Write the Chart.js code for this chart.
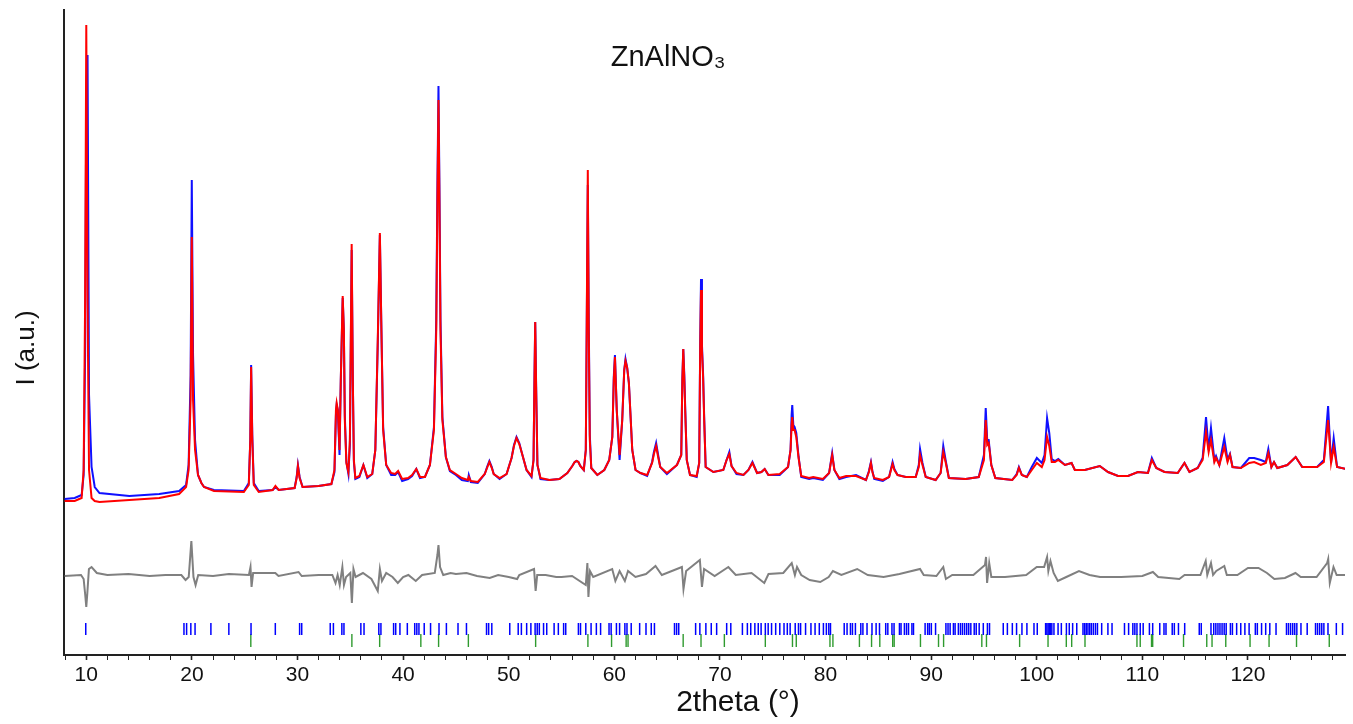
<!DOCTYPE html>
<html>
<head>
<meta charset="utf-8">
<title>ZnAlNO3 XRD refinement</title>
<script src="https://cdn.jsdelivr.net/npm/chart.js@4.4.1/dist/chart.umd.min.js"></script>
<style>
  html, body { margin: 0; padding: 0; background: #fff; overflow: hidden; }
  canvas { display: block; }
</style>
</head>
<body>
<canvas id="xrd" width="1353" height="724"></canvas>
<script>
const SAMPLE = "ZnAlNO₃";

// profile grid, 2theta (deg)
const twoTheta = [
  7.95, 8.90, 9.56, 9.75, 9.89, 10.00, 10.12, 10.26, 10.50, 10.80, 11.25, 14.08, 16.91, 18.79,
  19.45, 19.69, 19.88, 19.99, 20.11, 20.30, 20.58, 20.90, 21.15, 22.09, 24.92, 25.39, 25.53,
  25.61, 25.72, 25.86, 26.33, 27.65, 27.91, 28.22, 29.73, 29.92, 30.04, 30.20, 30.48,
  31.99, 33.21, 33.50, 33.64, 33.71, 33.82, 33.98, 34.10, 34.28, 34.39, 34.48, 34.63,
  34.82, 34.96, 35.13, 35.24, 35.34, 35.48, 35.86, 36.24, 36.61, 37.08, 37.37, 37.60,
  37.80, 37.93, 38.11, 38.40, 38.87, 39.25, 39.53, 39.91, 40.47, 40.85, 41.25, 41.60,
  42.07, 42.54, 42.92, 43.14, 43.25, 43.35, 43.44, 43.54, 43.72, 44.05, 44.43, 45.00,
  45.56, 46.13, 46.22, 46.41, 47.07, 47.73, 47.95, 48.17, 48.40, 48.58, 49.14, 49.80, 50.27, 50.50, 50.74, 51.00,
  51.22, 51.69, 52.16, 52.35, 52.44, 52.51, 52.60, 52.72, 53.01, 53.85, 54.80, 55.55,
  56.02, 56.25, 56.43, 56.60, 56.78, 57.11, 57.30, 57.39, 57.49, 57.58, 57.68, 57.82, 58.39, 59.05,
  59.52, 59.81, 59.95, 60.06, 60.23, 60.50, 60.75, 60.94, 61.06, 61.22, 61.38, 61.70,
  62.01, 62.48, 63.11, 63.58, 63.75, 63.96, 64.15, 64.35, 64.98, 65.93, 66.34, 66.44, 66.53, 66.63,
  66.72, 66.86, 67.17, 67.80, 68.04, 68.13, 68.21, 68.30, 68.41, 68.51, 68.65, 69.38,
  70.32, 70.63, 70.89, 71.10, 71.57, 72.23, 72.70, 73.08, 73.52, 73.93, 74.24, 74.59,
  75.66, 76.45, 76.69, 76.79, 76.85, 76.95, 77.07, 77.23, 77.45, 77.70, 78.45, 78.83,
  79.75, 80.34, 80.63, 80.84, 81.31, 81.95, 82.89, 83.83, 84.11, 84.30, 84.44, 84.61,
  85.43, 86.02, 86.35, 86.52, 86.82, 87.60, 88.54, 88.83, 88.95, 89.18, 89.49, 90.43,
  90.90, 91.15, 91.37, 91.68, 93.26, 94.51, 95.00, 95.17, 95.31, 95.45, 95.70, 96.08,
  97.68, 98.10, 98.31, 98.59, 99.06, 99.53, 100.01, 100.48, 100.74, 100.98, 101.19, 101.42,
  101.73, 102.04, 102.67, 103.30, 103.61, 104.55, 105.97, 106.75, 107.70, 108.64, 109.58, 110.53,
  110.90, 111.32, 112.10, 113.35, 113.99, 114.46, 115.24, 115.71, 116.03, 116.28, 116.50, 116.82,
  116.98, 117.29, 117.76, 118.07, 118.30, 118.54, 119.33, 120.12, 120.59, 121.22, 121.69, 121.93,
  122.22, 122.47, 122.78, 123.73, 124.52, 124.83, 125.14, 126.55, 127.19, 127.59, 127.87, 128.12,
  128.44, 129.26
];

// observed intensity (a.u.)
const iObs = [
  156, 157, 160, 180, 300, 560, 600, 260, 188, 168, 162, 159, 161, 164,
  170, 190, 280, 475, 300, 215, 180, 172, 168, 165, 164, 172, 215,
  290, 220, 172, 164, 165, 168, 165, 167, 178, 190, 178, 168,
  169, 171, 183, 240, 250, 245, 200, 275, 357, 325, 240, 193,
  181, 210, 405, 275, 193, 176, 178, 190, 177, 181, 205, 310,
  420, 335, 228, 190, 180, 180, 183, 174, 176, 179, 186, 177,
  178, 190, 228, 335, 470, 569, 470, 335, 238, 198, 184, 180,
  175, 174, 180, 173, 172, 181, 188, 194, 188, 181, 176, 181, 197, 210, 218, 212,
  203, 185, 178, 195, 278, 333, 268, 190, 176, 175, 176, 182,
  189, 193, 194, 193, 189, 185, 205, 330, 470, 335, 220, 187, 180, 185,
  195, 218, 278, 300, 245, 195, 235, 285, 296, 287, 272, 205,
  185, 182, 179, 193, 203, 212, 200, 188, 181, 190, 200, 275, 306, 280,
  245, 195, 180, 178, 192, 310, 376, 310, 280, 238, 188, 183,
  185, 195, 203, 189, 181, 180, 185, 193, 182, 183, 186, 180,
  180, 188, 205, 240, 250, 230, 228, 222, 198, 178, 176, 177,
  175, 182, 202, 185, 176, 178, 180, 175, 184, 193, 184, 176,
  174, 178, 193, 186, 180, 178, 178, 190, 206, 192, 178, 175,
  182, 209, 195, 177, 176, 178, 200, 247, 215, 215, 190, 177,
  175, 181, 188, 180, 178, 188, 197, 192, 200, 237, 222, 196,
  194, 196, 190, 192, 185, 185, 189, 183, 179, 179, 183, 182,
  197, 187, 183, 182, 192, 183, 187, 197, 238, 205, 227, 195,
  199, 190, 217, 195, 201, 188, 187, 197, 197, 195, 193, 206,
  188, 193, 187, 190, 198, 193, 188, 188, 195, 249, 192, 217,
  188, 186
];

// calculated intensity (a.u.)
const iCalc = [
  154, 154, 157, 185, 355, 630, 355, 185, 157, 154, 153, 155, 157, 161,
  168, 185, 255, 418, 255, 205, 180, 172, 168, 164, 163, 170, 215,
  288, 215, 170, 163, 165, 169, 165, 167, 177, 189, 177, 168,
  169, 171, 185, 245, 252, 245, 205, 275, 359, 325, 235, 192,
  183, 215, 411, 275, 195, 177, 179, 190, 178, 181, 205, 315,
  422, 335, 225, 190, 182, 181, 184, 176, 177, 180, 186, 178,
  178, 190, 225, 325, 455, 555, 455, 325, 235, 198, 185, 181,
  177, 175, 178, 174, 173, 181, 187, 193, 187, 181, 177, 181, 197, 209, 217, 211,
  203, 185, 179, 195, 275, 333, 265, 190, 177, 175, 176, 182,
  189, 193, 194, 193, 189, 185, 205, 335, 485, 325, 215, 187, 180, 185,
  195, 218, 275, 298, 245, 200, 235, 285, 294, 287, 272, 205,
  185, 182, 180, 192, 201, 209, 198, 188, 182, 190, 200, 275, 306, 275,
  242, 195, 180, 179, 192, 305, 365, 305, 277, 235, 188, 183,
  185, 195, 201, 189, 182, 180, 185, 192, 182, 183, 186, 180,
  181, 188, 205, 230, 238, 225, 225, 218, 197, 179, 177, 178,
  176, 182, 200, 185, 177, 179, 179, 175, 183, 192, 183, 177,
  175, 178, 191, 185, 180, 178, 178, 188, 200, 190, 178, 175,
  182, 203, 193, 177, 176, 178, 195, 235, 210, 212, 190, 177,
  175, 180, 187, 180, 178, 185, 192, 188, 195, 218, 209, 193,
  193, 195, 190, 192, 185, 185, 189, 183, 179, 179, 183, 182,
  195, 187, 183, 182, 192, 183, 187, 195, 223, 203, 215, 193,
  197, 190, 208, 193, 200, 188, 187, 192, 193, 190, 192, 202,
  188, 193, 187, 190, 198, 193, 188, 188, 193, 235, 192, 208,
  188, 186
];

// difference curve (obs - calc, shifted), own grid
const diffTheta = [
  7.95, 9.50, 9.75, 9.90, 10.00, 10.10, 10.25, 10.50, 11.00, 12.00, 14.00, 16.00, 17.50, 19.00,
  19.40, 19.70, 19.95, 20.15, 20.35, 20.60, 22.00, 23.50, 25.40, 25.55, 25.65, 25.80, 27.90, 28.20,
  30.10, 30.40, 32.00, 33.30, 33.60, 33.80, 34.00, 34.25, 34.40, 34.60, 35.00, 35.15, 35.30,
  35.50, 36.20, 37.00, 37.60, 37.80, 38.00, 38.40, 39.00, 39.50, 40.00, 40.50, 41.20,
  41.80, 43.00, 43.25, 43.35, 43.50, 43.80, 44.50, 45.00, 46.00, 47.00, 48.20, 49.00, 50.00, 50.80, 51.00, 52.40,
  52.55, 52.70, 53.50, 54.50, 55.00, 56.00, 57.30, 57.45, 57.55, 57.70, 58.00, 59.80, 60.10, 60.50,
  61.00, 61.30, 62.00, 63.00, 63.90, 64.50, 66.40, 66.55, 66.80, 68.10, 68.30, 68.50,
  69.50, 70.80, 71.50, 73.00, 74.20, 74.60, 76.00, 76.80, 77.10, 77.30, 77.70, 78.50,
  79.50, 80.30, 80.70, 81.50, 83.00, 84.00, 85.50, 87.00, 88.95, 89.30, 90.50, 91.15,
  91.40, 92.00, 94.00, 95.10, 95.20, 95.30, 95.50, 95.70, 97.00, 99.00, 100.00, 100.70,
  100.98, 101.10, 101.30, 101.60, 102.00, 102.80, 104.00, 105.00, 106.00, 108.00, 110.00, 111.00,
  111.50, 113.50, 114.00, 115.50, 116.00, 116.15, 116.50, 116.70, 117.00, 117.76, 118.00, 119.00,
  120.00, 121.00, 121.80, 122.50, 123.50, 124.50, 125.00, 126.50, 127.50, 127.60, 127.75, 128.10,
  128.40, 129.26
];

const iDiff = [
  79, 80, 76, 60, 48, 62, 86, 88, 82, 80, 81, 79, 80, 80,
  75, 78, 114, 78, 70, 80, 79, 81, 80, 88, 68, 82, 82, 79,
  83, 79, 80, 80, 72, 80, 70, 88, 70, 78, 82, 52, 86,
  78, 82, 76, 64, 86, 74, 82, 78, 72, 78, 80, 74,
  80, 82, 100, 110, 88, 80, 82, 81, 82, 79, 77, 80, 78, 76, 80, 86,
  64, 80, 80, 78, 78, 79, 70, 92, 58, 84, 78, 86, 74, 84,
  74, 84, 78, 81, 89, 80, 88, 66, 84, 95, 68, 86,
  79, 88, 80, 82, 72, 81, 82, 92, 80, 88, 80, 75,
  73, 78, 84, 80, 86, 80, 78, 81, 86, 80, 79, 88,
  76, 80, 80, 90, 98, 72, 92, 78, 78, 80, 88, 88,
  98, 84, 94, 82, 74, 78, 84, 80, 78, 78, 79, 83,
  78, 76, 80, 80, 94, 80, 92, 80, 84, 89, 80, 80,
  87, 87, 82, 76, 77, 82, 78, 78, 92, 96, 72, 88,
  80, 80
];

// reflection positions, phase 1 (LDH, blue)
const hklLdh = [
  9.95, 19.25, 19.50, 19.90, 20.30, 21.80, 23.50, 25.60, 27.90, 30.20, 30.40, 33.10,
  33.40, 34.20, 34.40, 36.00, 36.30, 37.70, 37.90, 39.10, 39.30, 39.70, 40.40, 41.10,
  41.30, 41.50, 42.00, 42.60, 43.40, 44.10, 45.20, 46.00, 47.90, 48.10, 48.40, 50.10,
  50.90, 51.20, 51.70, 52.10, 52.50, 52.70, 52.90, 53.30, 53.60, 54.30, 54.70, 55.20,
  55.40, 56.60, 56.80, 57.30, 57.80, 58.30, 58.70, 59.50, 59.70, 60.20, 60.50, 61.00,
  61.20, 61.60, 62.40, 63.00, 63.50, 63.80, 65.70, 65.90, 66.10, 67.70, 68.10, 68.67,
  69.18, 69.69, 70.64, 71.03, 72.13, 72.60, 72.92, 73.31, 73.63, 73.90, 74.30, 74.57,
  74.89, 75.28, 75.67, 76.07, 76.38, 76.65, 77.13, 77.44, 77.64, 78.11, 78.62, 79.01,
  79.41, 79.80, 80.08, 80.31, 80.47, 81.77, 82.04, 82.36, 82.55, 82.83, 83.34, 83.54,
  83.93, 84.40, 84.79, 85.11, 85.70, 85.90, 86.29, 86.49, 87.00, 87.15, 87.47, 87.67,
  87.86, 88.18, 88.33, 89.43, 89.67, 89.83, 90.02, 90.42, 91.40, 91.60, 91.80, 92.11,
  92.27, 92.58, 92.78, 92.97, 93.17, 93.37, 93.56, 93.76, 94.08, 94.27, 94.55, 94.94,
  95.33, 95.53, 96.83, 97.22, 97.69, 98.09, 98.60, 99.07, 99.74, 100.05, 100.84, 100.96,
  101.08, 101.19, 101.31, 101.43, 101.63, 102.02, 102.33, 102.81, 103.08, 103.40, 103.79, 104.38,
  104.54, 104.69, 104.85, 105.01, 105.17, 105.36, 105.56, 105.75, 106.15, 106.74, 107.13, 108.31,
  108.70, 109.10, 109.29, 109.49, 109.80, 110.08, 110.67, 110.98, 111.65, 112.05, 112.24, 112.83,
  113.03, 113.42, 114.01, 115.39, 115.58, 116.50, 116.76, 116.96, 117.16, 117.35, 117.55, 117.75,
  117.94, 118.34, 118.53, 118.93, 119.32, 119.71, 120.11, 120.70, 120.89, 121.29, 121.68, 122.07,
  122.66, 123.65, 123.84, 124.04, 124.24, 124.43, 124.63, 125.02, 125.61, 126.40, 126.59, 126.79,
  126.99, 127.19, 127.58, 128.37, 128.96
];

// reflection positions, phase 2 (corundum, green)
const hklCorundum = [
  25.58, 35.15, 37.78, 41.68, 43.36, 46.18, 52.55, 57.50, 59.74, 61.12, 61.30, 66.52,
  68.21, 70.42, 74.30, 76.87, 77.23, 80.42, 80.70, 83.21, 84.36, 85.14, 86.36, 86.50,
  88.99, 90.70, 91.18, 94.80, 95.24, 98.38, 101.07, 102.80, 103.31, 104.57, 109.49, 109.80,
  110.87, 110.98, 113.90, 116.10, 116.60, 117.90, 120.20, 122.00, 124.60, 127.70
];

const FONT = '"Liberation Sans", Arial, Helvetica, sans-serif';
const LDH_ROW = 26;
const COR_ROW = 14.5;

const pts = (xs, ys) => xs.map((x, i) => ({ x, y: ys[i] }));
const marks = (xs, y) => xs.map(x => ({ x, y }));

const textPlugin = {
  id: "xrdText",
  afterDraw(chart) {
    const { ctx, scales } = chart;
    ctx.save();
    ctx.fillStyle = "#111";
    ctx.textAlign = "center";

    ctx.font = "29px " + FONT;
    ctx.textBaseline = "alphabetic";
    ctx.fillText(SAMPLE, scales.x.getPixelForValue(65.1), 66);

    ctx.font = "30px " + FONT;
    ctx.textBaseline = "middle";
    ctx.fillText("2theta (°)", 738, 703);

    ctx.translate(27, 348);
    ctx.rotate(-Math.PI / 2);
    ctx.font = "26px " + FONT;
    ctx.fillText("I (a.u.)", 0, 0);
    ctx.restore();
  }
};

Chart.defaults.font.family = FONT;
Chart.defaults.color = "#111";

new Chart(document.getElementById("xrd"), {
  type: "scatter",
  data: {
    datasets: [
      {
        label: "Ycalc",
        data: pts(twoTheta, iCalc),
        showLine: true,
        borderColor: "#ff0000",
        borderWidth: 2,
        pointRadius: 0,
        order: 0,
      },
      {
        label: "Yobs",
        data: pts(twoTheta, iObs),
        showLine: true,
        borderColor: "#1010ff",
        borderWidth: 2,
        pointRadius: 0,
        order: 1,
      },
      {
        label: "Yobs-Ycalc",
        data: pts(diffTheta, iDiff),
        showLine: true,
        borderColor: "#808080",
        borderWidth: 2,
        pointRadius: 0,
        order: 2,
      },
      {
        label: "LDH",
        data: marks(hklLdh, LDH_ROW),
        showLine: false,
        pointStyle: "line",
        rotation: 90,
        pointRadius: 6,
        borderColor: "#0000ff",
        borderWidth: 1.5,
        order: 3,
      },
      {
        label: "Corundum",
        data: marks(hklCorundum, COR_ROW),
        showLine: false,
        pointStyle: "line",
        rotation: 90,
        pointRadius: 6.5,
        borderColor: "#2f9a2f",
        borderWidth: 1.4,
        order: 4,
      },
    ],
  },
  options: {
    responsive: false,
    animation: false,
    devicePixelRatio: 1,
    layout: { padding: { top: 10, right: 0, bottom: 0, left: 0 } },
    plugins: { legend: { display: false }, tooltip: { enabled: false } },
    scales: {
      x: {
        type: "linear",
        min: 7.89,
        max: 129.2,
        afterFit: s => { s.height = 69; s.paddingLeft = 0; s.paddingRight = 0; },
        grid: {
          display: true,
          drawOnChartArea: false,
          drawTicks: true,
          tickLength: 5,
          tickColor: "#222",
          tickWidth: c => (c.tick && c.tick.value % 10 === 0 ? 1.6 : 1),
        },
        border: { display: true, color: "#222", width: 2 },
        ticks: {
          stepSize: 2,
          includeBounds: false,
          autoSkip: false,
          maxRotation: 0,
          padding: 3,
          font: { size: 21 },
          color: "#111",
          callback: v => (v % 10 === 0 ? String(v) : ""),
        },
      },
      y: {
        min: 0,
        max: 645,
        afterFit: s => { s.width = 64; },
        grid: { display: false },
        border: { display: true, color: "#222", width: 2 },
        ticks: { display: false },
      },
    },
  },
  plugins: [textPlugin],
});
</script>
</body>
</html>
